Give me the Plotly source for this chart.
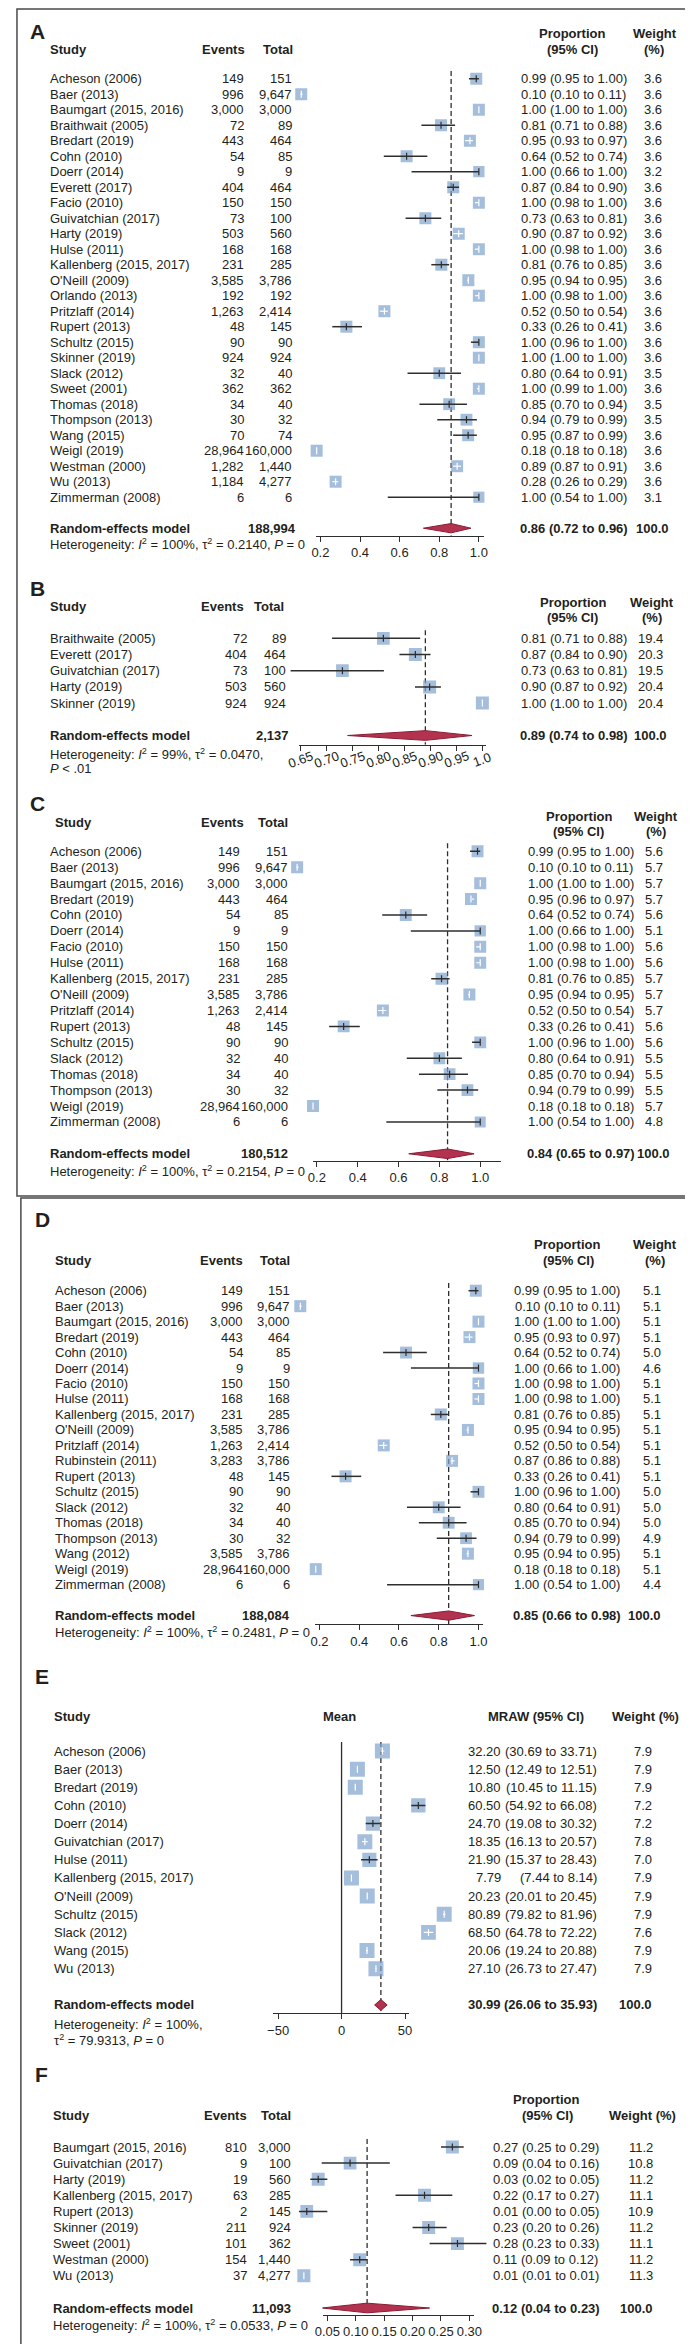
import math
import plotly.graph_objects as go

W, H = 693, 2344
FONT = "Liberation Sans, Arial, sans-serif"
INK = "#231f20"
LINE = "#2e2e2e"
SQ = "#7fa2cc"
DIA_FILL = "#b3324f"
DIA_LINE = "#8a1c33"
FS = 13

# ---- A: all studies
a_study = ["Acheson (2006)", "Baer (2013)", "Baumgart (2015, 2016)", "Braithwait (2005)", "Bredart (2019)",
           "Cohn (2010)", "Doerr (2014)", "Everett (2017)", "Facio (2010)", "Guivatchian (2017)",
           "Harty (2019)", "Hulse (2011)", "Kallenberg (2015, 2017)", "O'Neill (2009)", "Orlando (2013)",
           "Pritzlaff (2014)", "Rupert (2013)", "Schultz (2015)", "Skinner (2019)", "Slack (2012)",
           "Sweet (2001)", "Thomas (2018)", "Thompson (2013)", "Wang (2015)", "Weigl (2019)",
           "Westman (2000)", "Wu (2013)", "Zimmerman (2008)"]
a_events = [149, 996, 3000, 72, 443, 54, 9, 404, 150, 73, 503, 168, 231, 3585, 192, 1263, 48, 90, 924,
            32, 362, 34, 30, 70, 28964, 1282, 1184, 6]
a_total = [151, 9647, 3000, 89, 464, 85, 9, 464, 150, 100, 560, 168, 285, 3786, 192, 2414, 145, 90, 924,
           40, 362, 40, 32, 74, 160000, 1440, 4277, 6]
a_prop = [0.99, 0.10, 1.00, 0.81, 0.95, 0.64, 1.00, 0.87, 1.00, 0.73, 0.90, 1.00, 0.81, 0.95, 1.00, 0.52,
          0.33, 1.00, 1.00, 0.80, 1.00, 0.85, 0.94, 0.95, 0.18, 0.89, 0.28, 1.00]
a_lo = [0.95, 0.10, 1.00, 0.71, 0.93, 0.52, 0.66, 0.84, 0.98, 0.63, 0.87, 0.98, 0.76, 0.94, 0.98, 0.50,
        0.26, 0.96, 1.00, 0.64, 0.99, 0.70, 0.79, 0.87, 0.18, 0.87, 0.26, 0.54]
a_hi = [1.00, 0.11, 1.00, 0.88, 0.97, 0.74, 1.00, 0.90, 1.00, 0.81, 0.92, 1.00, 0.85, 0.95, 1.00, 0.54,
        0.41, 1.00, 1.00, 0.91, 1.00, 0.94, 0.99, 0.99, 0.18, 0.91, 0.29, 1.00]
a_weight = [3.6, 3.6, 3.6, 3.6, 3.6, 3.6, 3.2, 3.6, 3.6, 3.6, 3.6, 3.6, 3.6, 3.6, 3.6, 3.6, 3.6, 3.6, 3.6,
            3.5, 3.6, 3.5, 3.5, 3.6, 3.6, 3.6, 3.6, 3.1]
a_pooled = [0.86, 0.72, 0.96]
a_sum = 188994

# ---- B
b_study = ["Braithwaite (2005)", "Everett (2017)", "Guivatchian (2017)", "Harty (2019)", "Skinner (2019)"]
b_events = [72, 404, 73, 503, 924]
b_total = [89, 464, 100, 560, 924]
b_prop = [0.81, 0.87, 0.73, 0.90, 1.00]
b_lo = [0.71, 0.84, 0.63, 0.87, 1.00]
b_hi = [0.88, 0.90, 0.81, 0.92, 1.00]
b_weight = [19.4, 20.3, 19.5, 20.4, 20.4]
b_pooled = [0.89, 0.74, 0.98]
b_sum = 2137

# ---- C
c_study = ["Acheson (2006)", "Baer (2013)", "Baumgart (2015, 2016)", "Bredart (2019)", "Cohn (2010)",
           "Doerr (2014)", "Facio (2010)", "Hulse (2011)", "Kallenberg (2015, 2017)", "O'Neill (2009)",
           "Pritzlaff (2014)", "Rupert (2013)", "Schultz (2015)", "Slack (2012)", "Thomas (2018)",
           "Thompson (2013)", "Weigl (2019)", "Zimmerman (2008)"]
c_events = [149, 996, 3000, 443, 54, 9, 150, 168, 231, 3585, 1263, 48, 90, 32, 34, 30, 28964, 6]
c_total = [151, 9647, 3000, 464, 85, 9, 150, 168, 285, 3786, 2414, 145, 90, 40, 40, 32, 160000, 6]
c_prop = [0.99, 0.10, 1.00, 0.95, 0.64, 1.00, 1.00, 1.00, 0.81, 0.95, 0.52, 0.33, 1.00, 0.80, 0.85, 0.94,
          0.18, 1.00]
c_lo = [0.95, 0.10, 1.00, 0.96, 0.52, 0.66, 0.98, 0.98, 0.76, 0.94, 0.50, 0.26, 0.96, 0.64, 0.70, 0.79,
        0.18, 0.54]
c_hi = [1.00, 0.11, 1.00, 0.97, 0.74, 1.00, 1.00, 1.00, 0.85, 0.95, 0.54, 0.41, 1.00, 0.91, 0.94, 0.99,
        0.18, 1.00]
c_weight = [5.6, 5.7, 5.7, 5.7, 5.6, 5.1, 5.6, 5.6, 5.7, 5.7, 5.7, 5.6, 5.6, 5.5, 5.5, 5.5, 5.7, 4.8]
c_pooled = [0.84, 0.65, 0.97]
c_sum = 180512

# ---- D
d_study = ["Acheson (2006)", "Baer (2013)", "Baumgart (2015, 2016)", "Bredart (2019)", "Cohn (2010)",
           "Doerr (2014)", "Facio (2010)", "Hulse (2011)", "Kallenberg (2015, 2017)", "O'Neill (2009)",
           "Pritzlaff (2014)", "Rubinstein (2011)", "Rupert (2013)", "Schultz (2015)", "Slack (2012)",
           "Thomas (2018)", "Thompson (2013)", "Wang (2012)", "Weigl (2019)", "Zimmerman (2008)"]
d_events = [149, 996, 3000, 443, 54, 9, 150, 168, 231, 3585, 1263, 3283, 48, 90, 32, 34, 30, 3585, 28964, 6]
d_total = [151, 9647, 3000, 464, 85, 9, 150, 168, 285, 3786, 2414, 3786, 145, 90, 40, 40, 32, 3786, 160000, 6]
d_prop = [0.99, 0.10, 1.00, 0.95, 0.64, 1.00, 1.00, 1.00, 0.81, 0.95, 0.52, 0.87, 0.33, 1.00, 0.80, 0.85,
          0.94, 0.95, 0.18, 1.00]
d_lo = [0.95, 0.10, 1.00, 0.93, 0.52, 0.66, 0.98, 0.98, 0.76, 0.94, 0.50, 0.86, 0.26, 0.96, 0.64, 0.70,
        0.79, 0.94, 0.18, 0.54]
d_hi = [1.00, 0.11, 1.00, 0.97, 0.74, 1.00, 1.00, 1.00, 0.85, 0.95, 0.54, 0.88, 0.41, 1.00, 0.91, 0.94,
        0.99, 0.95, 0.18, 1.00]
d_weight = [5.1, 5.1, 5.1, 5.1, 5.0, 4.6, 5.1, 5.1, 5.1, 5.1, 5.1, 5.1, 5.1, 5.0, 5.0, 5.0, 4.9, 5.1, 5.1, 4.4]
d_pooled = [0.85, 0.66, 0.98]
d_sum = 188084

# ---- E: mean (MRAW)
e_study = ["Acheson (2006)", "Baer (2013)", "Bredart (2019)", "Cohn (2010)", "Doerr (2014)",
           "Guivatchian (2017)", "Hulse (2011)", "Kallenberg (2015, 2017)", "O'Neill (2009)",
           "Schultz (2015)", "Slack (2012)", "Wang (2015)", "Wu (2013)"]
e_mean = [32.20, 12.50, 10.80, 60.50, 24.70, 18.35, 21.90, 7.79, 20.23, 80.89, 68.50, 20.06, 27.10]
e_lo = [30.69, 12.49, 10.45, 54.92, 19.08, 16.13, 15.37, 7.44, 20.01, 79.82, 64.78, 19.24, 26.73]
e_hi = [33.71, 12.51, 11.15, 66.08, 30.32, 20.57, 28.43, 8.14, 20.45, 81.96, 72.22, 20.88, 27.47]
e_weight = [7.9, 7.9, 7.9, 7.2, 7.2, 7.8, 7.0, 7.9, 7.9, 7.9, 7.6, 7.9, 7.9]
e_pooled = [30.99, 26.06, 35.93]

# ---- F
f_study = ["Baumgart (2015, 2016)", "Guivatchian (2017)", "Harty (2019)", "Kallenberg (2015, 2017)",
           "Rupert (2013)", "Skinner (2019)", "Sweet (2001)", "Westman (2000)", "Wu (2013)"]
f_events = [810, 9, 19, 63, 2, 211, 101, 154, 37]
f_total = [3000, 100, 560, 285, 145, 924, 362, 1440, 4277]
f_prop = [0.27, 0.09, 0.03, 0.22, 0.01, 0.23, 0.28, 0.11, 0.01]
f_lo = [0.25, 0.04, 0.02, 0.17, 0.00, 0.20, 0.23, 0.09, 0.01]
f_hi = [0.29, 0.16, 0.05, 0.27, 0.05, 0.26, 0.33, 0.12, 0.01]
f_weight = [11.2, 10.8, 11.2, 11.1, 10.9, 11.2, 11.1, 11.2, 11.3]
f_pooled = [0.12, 0.04, 0.23]
f_sum = 11093

I2 = "<i>I</i><sup>2</sup>"
T2 = "τ<sup>2</sup>"
PP = "<i>P</i>"


def P(x):
    return x / W


def Q(y):
    return 1 - y / H


fig = go.Figure()
ann = []
lay = {}


def label(text, x, y, anchor="left", yref="paper", xref="paper", bold=False, size=FS, angle=0):
    if bold:
        text = "<b>" + text + "</b>"
    ann.append(dict(text=text, x=P(x) if xref == "paper" else x, y=Q(y) if yref == "paper" else y,
                    xref=xref, yref=yref, xanchor=anchor, yanchor="middle", showarrow=False,
                    textangle=angle, font=dict(family=FONT, size=size, color=INK)))


def forest(k, study, prop, lo, hi, weight, pooled, cfg, cols, events=None, total=None, n_sum=None,
           zero_line=False):
    sx = "" if k == 1 else str(k)
    dx = str(k + 6)
    xa, xd, ya = "x" + sx, "x" + dx, "y" + sx
    a0, p0, a1, p1 = cfg["cal"]
    kpx = (p1 - p0) / (a1 - a0)

    def to_px(v):
        return p0 + (v - a0) * kpx

    def row_of(p):
        return (p - cfg["row0"]) / cfg["pitch"]

    y_bot, y_top = row_of(cfg["axis"]), row_of(cfg["top"])
    lay["yaxis" + sx] = dict(domain=[Q(cfg["axis"]), Q(cfg["top"])], range=[y_bot, y_top],
                             visible=False, fixedrange=True, anchor=xa)
    r0, r1 = cfg["rng"]
    lay["xaxis" + sx] = dict(domain=[P(to_px(r0)), P(to_px(r1))], range=[r0, r1], anchor=ya,
                             visible=False, fixedrange=True)
    s0, s1 = cfg["span"]
    angle = cfg.get("tickangle")
    lay["xaxis" + dx] = dict(domain=[P(to_px(s0)), P(to_px(s1))], range=[s0, s1], anchor=ya,
                             showline=True, linecolor=LINE, linewidth=1.3, ticks="outside", ticklen=5,
                             tickwidth=1.3, tickcolor=LINE, tickvals=cfg["ticks"], ticktext=cfg["labels"],
                             showticklabels=angle is None,
                             tickfont=dict(family=FONT, size=13, color=INK),
                             showgrid=False, zeroline=False, fixedrange=True)
    if angle is not None:
        for t, lab in zip(cfg["ticks"], cfg["labels"]):
            label(lab, t, cfg["axis"] + 15, anchor="center", xref=xd, angle=angle)

    n = len(study)
    rows = list(range(n))
    re_row = n + 1
    pos = [e / t for e, t in zip(events, total)] if events else list(prop)
    wmax = max(weight)
    sizes = [cfg["sq"] * math.sqrt(w / wmax) for w in weight]

    # reference lines
    if zero_line:
        fig.add_trace(go.Scatter(x=[0, 0], y=[-0.5, y_bot], mode="lines", xaxis=xa, yaxis=ya,
                                 line=dict(color=LINE, width=1.3), hoverinfo="skip"))
    fig.add_trace(go.Scatter(x=[pooled[0], pooled[0]], y=[-0.5, y_bot], mode="lines", xaxis=xa, yaxis=ya,
                             line=dict(color=LINE, width=1.3, dash="5px,3px"), hoverinfo="skip"))

    # study squares
    fig.add_trace(go.Scatter(x=pos, y=rows, mode="markers", xaxis=xa, yaxis=ya,
                             marker=dict(symbol="square", size=sizes, color=SQ, line_width=0)))

    dark_x, dark_y, white_x, white_y, tick_col = [], [], [], [], []
    for i in rows:
        half = sizes[i] / 2
        inside = (pos[i] - lo[i]) * kpx <= half and (hi[i] - pos[i]) * kpx <= half
        if inside:
            white_x += [lo[i], hi[i], None]
            white_y += [i, i, None]
            tick_col.append("white")
        else:
            dark_x += [lo[i], hi[i], None]
            dark_y += [i, i, None]
            tick_col.append(LINE)
    fig.add_trace(go.Scatter(x=dark_x, y=dark_y, mode="lines", xaxis=xa, yaxis=ya,
                             line=dict(color=LINE, width=1.5)))
    fig.add_trace(go.Scatter(x=white_x, y=white_y, mode="lines", xaxis=xa, yaxis=ya,
                             line=dict(color="white", width=1.2)))
    fig.add_trace(go.Scatter(x=pos, y=rows, mode="markers", xaxis=xa, yaxis=ya,
                             marker=dict(symbol="line-ns", size=5, line=dict(width=1.2, color=tick_col))))

    # pooled diamond
    est, plo, phi = pooled
    fig.add_trace(go.Scatter(x=[plo, est, phi, est, plo], y=[re_row, re_row - 0.3, re_row, re_row + 0.3, re_row],
                             mode="lines", fill="toself", fillcolor=DIA_FILL, xaxis=xd, yaxis=ya,
                             line=dict(color=DIA_LINE, width=1)))

    # text columns
    for i in rows:
        label(study[i], cols["study"], i, yref=ya)
        if events:
            label(f"{events[i]:,}", cols["ev"], i, anchor="right", yref=ya)
            label(f"{total[i]:,}", cols["tot"], i, anchor="right", yref=ya)
        if "est" in cols:
            label(f"{prop[i]:.2f}", cols["est"], i, anchor="right", yref=ya)
            label(f"({lo[i]:.2f} to {hi[i]:.2f})", cols["ci"][0], i, anchor=cols["ci"][1], yref=ya)
        else:
            label(f"{prop[i]:.2f} ({lo[i]:.2f} to {hi[i]:.2f})", cols["ci"][0], i, anchor=cols["ci"][1], yref=ya)
        label(f"{weight[i]:.1f}", cols["w"][0], i, anchor=cols["w"][1], yref=ya)

    label("Random-effects model", cols["study"], re_row, yref=ya, bold=True)
    if n_sum is not None:
        label(f"{n_sum:,}", cols["sum"], re_row, anchor="right", yref=ya, bold=True)
    if "est" in cols:
        label(f"{est:.2f}", cols["est"], re_row, anchor="right", yref=ya, bold=True)
        label(f"({plo:.2f} to {phi:.2f})", cols["ci"][0], re_row, anchor=cols["ci"][1], yref=ya, bold=True)
    else:
        label(f"{est:.2f} ({plo:.2f} to {phi:.2f})", cols["ci"][0], re_row, anchor=cols["ci"][1],
              yref=ya, bold=True)
    label("100.0", cols["w"][0], re_row, anchor=cols["w"][1], yref=ya, bold=True)


ticks_prop = [0.2, 0.4, 0.6, 0.8, 1.0]
labels_prop = ["0.2", "0.4", "0.6", "0.8", "1.0"]

# A
forest(1, a_study, a_prop, a_lo, a_hi, a_weight, a_pooled,
       dict(row0=70.7, pitch=15.5, top=50, axis=527.7, cal=(0.2, 311.6, 1.0, 473.8), span=(0.177, 1.026),
            rng=(-0.3, 1.5), sq=12, ticks=ticks_prop, labels=labels_prop),
       dict(study=33, ev=235, tot=285, sum=288.6, ci=(571, "center"), w=(652, "center")),
       events=a_events, total=a_total, n_sum=a_sum)
label("A", 12, 23, bold=True, size=21)
label("Study", 33, 42, bold=True)
label("Events", 236, 42, anchor="right", bold=True)
label("Total", 286, 42, anchor="right", bold=True)
label("Proportion", 569, 26, anchor="center", bold=True)
label("(95% CI)", 570, 42, anchor="center", bold=True)
label("Weight", 654, 26, anchor="center", bold=True)
label("(%)", 653, 42, anchor="center", bold=True)
label(f"Heterogeneity: {I2} = 100%, {T2} = 0.2140, {PP} = 0", 33, 535.7)

# B
forest(2, b_study, b_prop, b_lo, b_hi, b_weight, b_pooled,
       dict(row0=630.3, pitch=16.2, top=614, axis=736.7, cal=(0.65, 291.7, 1.0, 477.4), span=(0.646, 1.007),
            rng=(0.5, 1.1), sq=13, ticks=[0.65, 0.70, 0.75, 0.80, 0.85, 0.90, 0.95, 1.0],
            labels=["0.65", "0.70", "0.75", "0.80", "0.85", "0.90", "0.95", "1.0"], tickangle=-20),
       dict(study=33, ev=238.7, tot=278, sum=281, ci=(571.6, "center"), w=(649, "center")),
       events=b_events, total=b_total, n_sum=b_sum)
label("B", 12, 580, bold=True, size=21)
label("Study", 33, 598.3, bold=True)
label("Events", 235.6, 598.3, anchor="right", bold=True)
label("Total", 276.7, 598.3, anchor="right", bold=True)
label("Proportion", 570, 595, anchor="center", bold=True)
label("(95% CI)", 570, 609.3, anchor="center", bold=True)
label("Weight", 650.6, 595, anchor="center", bold=True)
label("(%)", 650.6, 609.3, anchor="center", bold=True)
label(f"Heterogeneity: {I2} = 99%, {T2} = 0.0470,", 33, 746)
label(f"{PP} < .01", 33, 760.7)

# C
forest(3, c_study, c_prop, c_lo, c_hi, c_weight, c_pooled,
       dict(row0=843.3, pitch=15.92, top=828, axis=1152.7, cal=(0.2, 308, 1.0, 475.2), span=(0.181, 1.104),
            rng=(-0.2, 1.4), sq=12, ticks=ticks_prop, labels=labels_prop),
       dict(study=33, ev=231, tot=280, sum=280, ci=(578, "center"), w=(653, "center")),
       events=c_events, total=c_total, n_sum=c_sum)
label("C", 12, 795, bold=True, size=21)
label("Study", 37.6, 814.3, bold=True)
label("Events", 235.6, 814.3, anchor="right", bold=True)
label("Total", 280, 814.3, anchor="right", bold=True)
label("Proportion", 576, 808.3, anchor="center", bold=True)
label("(95% CI)", 576, 823.3, anchor="center", bold=True)
label("Weight", 655, 808.3, anchor="center", bold=True)
label("(%)", 655, 823.3, anchor="center", bold=True)
label(f"Heterogeneity: {I2} = 100%, {T2} = 0.2154, {PP} = 0", 33, 1162.7)

# D
forest(4, d_study, d_prop, d_lo, d_hi, d_weight, d_pooled,
       dict(row0=1282.7, pitch=15.47, top=1265, axis=1616, cal=(0.2, 310.7, 1.0, 473.4), span=(0.176, 1.0225),
            rng=(-0.2, 1.4), sq=12, ticks=ticks_prop, labels=labels_prop),
       dict(study=37.6, ev=234.7, tot=283, sum=283, ci=(564.5, "center"), w=(662, "right")),
       events=d_events, total=d_total, n_sum=d_sum)
label("D", 17, 1211.7, bold=True, size=21)
label("Study", 37.6, 1252.3, bold=True)
label("Events", 234.7, 1252.3, anchor="right", bold=True)
label("Total", 283, 1252.3, anchor="right", bold=True)
label("Proportion", 564.5, 1236, anchor="center", bold=True)
label("(95% CI)", 566, 1252.3, anchor="center", bold=True)
label("Weight", 654, 1236, anchor="center", bold=True)
label("(%)", 654, 1252.3, anchor="center", bold=True)
label(f"Heterogeneity: {I2} = 100%, {T2} = 0.2481, {PP} = 0", 37.6, 1624.3)

# E
forest(5, e_study, e_mean, e_lo, e_hi, e_weight, e_pooled,
       dict(row0=1743, pitch=18.14, top=1722, axis=2005, cal=(-50, 268.3, 50, 398.2), span=(-53.8, 53.5),
            rng=(-80, 110), sq=15, ticks=[-50, 0, 50], labels=["\u221250", "0", "50"]),
       dict(study=36.7, est=499, ci=(597, "right"), w=(653, "right")),
       zero_line=True)
label("E", 17.7, 1668.3, bold=True, size=21)
label("Study", 36.7, 1708.3, bold=True)
label("Mean", 331.5, 1708.3, anchor="center", bold=True)
label("MRAW (95% CI)", 532.6, 1708.3, anchor="center", bold=True)
label("Weight (%)", 644.5, 1708.3, anchor="center", bold=True)
label(f"Heterogeneity: {I2} = 100%,", 36.7, 2015.7)
label(f"{T2} = 79.9313, {PP} = 0", 36.7, 2031.7)

# F
forest(6, f_study, f_prop, f_lo, f_hi, f_weight, f_pooled,
       dict(row0=2139, pitch=16.1, top=2120, axis=2306.5, cal=(0.05, 318.7, 0.30, 464.1), span=(0.0416, 0.3076),
            rng=(-0.05, 0.45), sq=13, ticks=[0.05, 0.10, 0.15, 0.20, 0.25, 0.30],
            labels=["0.05", "0.10", "0.15", "0.20", "0.25", "0.30"]),
       dict(study=35.4, ev=239, tot=283.3, sum=283.3, ci=(542.3, "center"), w=(654, "right")),
       events=f_events, total=f_total, n_sum=f_sum)
label("F", 17.7, 2066.7, bold=True, size=21)
label("Study", 35.4, 2107.3, bold=True)
label("Events", 239, 2107.3, anchor="right", bold=True)
label("Total", 283.3, 2107.3, anchor="right", bold=True)
label("Proportion", 542.8, 2091.7, anchor="center", bold=True)
label("(95% CI)", 544.5, 2107.3, anchor="center", bold=True)
label("Weight (%)", 641.8, 2107.3, anchor="center", bold=True)
label(f"Heterogeneity: {I2} = 100%, {T2} = 0.0533, {PP} = 0", 35.4, 2316.7)

# panel frames
shapes = [
    dict(type="rect", xref="paper", yref="paper", x0=P(1), x1=P(692), y0=Q(1), y1=Q(1188),
         line=dict(color="#4a4a4a", width=1.5)),
    dict(type="rect", xref="paper", yref="paper", x0=P(5), x1=P(686), y0=Q(1190), y1=Q(2343),
         line=dict(color="#4a4a4a", width=1.5)),
]

fig.update_layout(
    width=W, height=H,
    margin=dict(l=0, r=0, t=0, b=0),
    paper_bgcolor="white",
    plot_bgcolor="rgba(0,0,0,0)",
    showlegend=False,
    hovermode=False,
    annotations=ann,
    shapes=shapes,
    **lay,
)

fig.write_html("out.html")
